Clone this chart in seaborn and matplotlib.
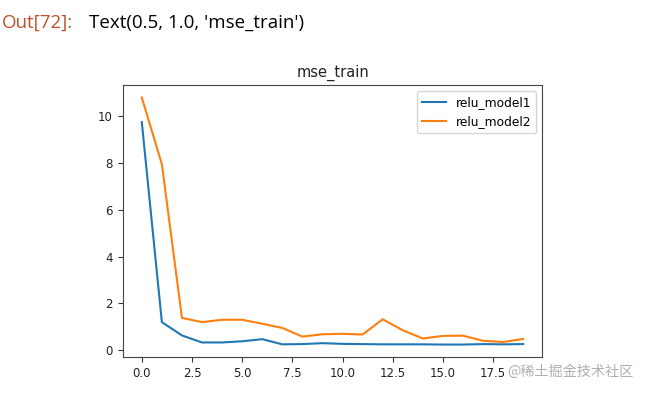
import matplotlib
matplotlib.use("Agg")
import matplotlib.pyplot as plt
import seaborn as sns
import pandas as pd

# mse per epoch
epochs = list(range(20))
relu_model1 = [9.75, 1.2, 0.63, 0.33, 0.33, 0.38, 0.47, 0.25, 0.26, 0.3,
               0.27, 0.26, 0.25, 0.25, 0.25, 0.24, 0.24, 0.26, 0.25, 0.26]
relu_model2 = [10.8, 7.95, 1.38, 1.2, 1.3, 1.3, 1.13, 0.95, 0.58, 0.68,
               0.7, 0.67, 1.32, 0.85, 0.5, 0.61, 0.62, 0.4, 0.35, 0.48]
model_names = ["relu_model1", "relu_model2"]

df = pd.DataFrame({"epoch": epochs * 2,
                   "mse": relu_model1 + relu_model2,
                   "model": [model_names[0]] * 20 + [model_names[1]] * 20})

plt.rcParams['font.family'] = ['DejaVu Sans']
fig = plt.figure(figsize=(6.5, 3.94), dpi=100)
ax = fig.add_axes([0.1888, 0.094, 0.6455, 0.690])

sns.lineplot(data=df, x="epoch", y="mse", hue="model",
             palette=["#1f77b4", "#ff7f0e"], linewidth=1.5, ax=ax)
ax.set_xlim(-0.95, 19.95)
ax.set_ylim(-0.29, 11.33)
ax.set_xticks([0, 2.5, 5, 7.5, 10, 12.5, 15, 17.5])
ax.set_xticklabels(["0.0", "2.5", "5.0", "7.5", "10.0", "12.5", "15.0", "17.5"])
ax.set_yticks([0, 2, 4, 6, 8, 10])
ax.tick_params(labelsize=8.5, colors="#333333", labelcolor="#222222")
ax.set_xlabel("")
ax.set_ylabel("")
ax.set_title("mse_train", fontsize=10.5, color="#222222")
for s in ax.spines.values():
    s.set_color("#444444")
ax.legend(title=None, loc="upper right", fontsize=8.8, framealpha=0.8,
          edgecolor="#cccccc")

# notebook output line and watermark
fig.text(0.003, 0.943, "Out[72]:", fontsize=13.5, color="#c0502b", va="center",
         family=["Open Sans", "DejaVu Sans"])
fig.text(0.137, 0.943, "Text(0.5, 1.0, 'mse_train')", fontsize=13.5, color="black",
         va="center", family=["Open Sans", "DejaVu Sans"])
fig.text(0.78, 0.056, "@稀土掘金技术社区", fontsize=10.2, color="#b0b0b0",
         va="center", family=["Noto Sans CJK SC", "DejaVu Sans"])

plt.savefig("out.png", dpi=100)
